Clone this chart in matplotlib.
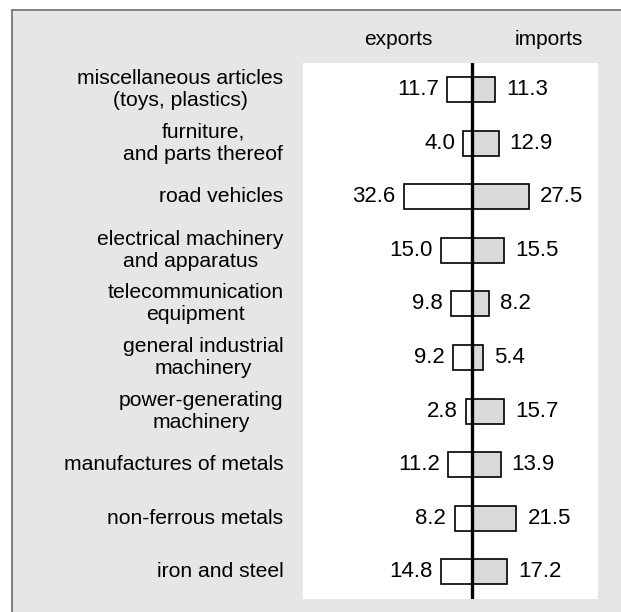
import numpy as np
import matplotlib
matplotlib.use('Agg')
import matplotlib.pyplot as plt
from matplotlib.patches import Rectangle
from matplotlib.lines import Line2D

plt.rcParams['font.family'] = ['Liberation Sans', 'DejaVu Sans']

categories = [
    'miscellaneous articles\n(toys, plastics)',
    'furniture,\nand parts thereof',
    'road vehicles',
    'electrical machinery\nand apparatus',
    'telecommunication\nequipment',
    'general industrial\nmachinery',
    'power-generating\nmachinery',
    'manufactures of metals',
    'non-ferrous metals',
    'iron and steel',
]
exports = [11.7, 4.0, 32.6, 15.0, 9.8, 9.2, 2.8, 11.2, 8.2, 14.8]
imports = [11.3, 12.9, 27.5, 15.5, 8.2, 5.4, 15.7, 13.9, 21.5, 17.2]

W, H = 621, 612
fig = plt.figure(figsize=(W / 100, H / 100), dpi=100)
fig.patch.set_facecolor('white')

# grey panel, cut off at right and bottom, border on left and top only
x0, y0 = 11.5 / W, 1 - 10 / H
fig.patches.append(Rectangle((x0, 0), 1 - x0, y0, transform=fig.transFigure,
                             facecolor='#e6e6e6', edgecolor='none', zorder=-2))
fig.lines.append(Line2D([x0, x0], [0, y0], transform=fig.transFigure,
                        color='#808080', lw=1.4, zorder=-1))
fig.lines.append(Line2D([x0, 1], [y0, y0], transform=fig.transFigure,
                        color='#808080', lw=1.4, zorder=-1))

ax = fig.add_axes([302.7 / W, 1 - 598.7 / H, 295 / W, 536 / H])
ax.set_zorder(2)
ax.set_facecolor('white')
for s in ax.spines.values():
    s.set_visible(False)

n = len(categories)
y = np.arange(n)[::-1]
h = 0.47
ax.barh(y, [-v for v in exports], height=h, color='white', edgecolor='black', lw=1.2, zorder=2)
ax.barh(y, imports, height=h, color='#d9d9d9', edgecolor='black', lw=1.2, zorder=2)
ax.axvline(0, color='black', lw=2.4, zorder=3)

ax.set_xlim(-81.3, 60.6)
ax.set_ylim(-0.5, n - 0.5)
ax.set_xticks([])
ax.set_yticks([])

vfs = 16
for yi, e, im in zip(y, exports, imports):
    ax.annotate(f'{e:.1f}', (-e, yi), xytext=(-6, 0), textcoords='offset points',
                ha='right', va='center', fontsize=vfs)
    ax.annotate(f'{im:.1f}', (im, yi), xytext=(8, 0), textcoords='offset points',
                ha='left', va='center', fontsize=vfs)

lfs = 15.2
for yi, lab in zip(y, categories):
    ax.annotate(lab, (0, yi), xycoords=('axes fraction', 'data'), xytext=(-14, 0),
                textcoords='offset points', ha='right', va='center',
                multialignment='center', fontsize=lfs, linespacing=1.2,
                annotation_clip=False)

ax.annotate('exports', (-35.5, n - 0.5), xytext=(0, 17), textcoords='offset points',
            ha='center', va='center', fontsize=15, annotation_clip=False)
ax.annotate('imports', (37.3, n - 0.5), xytext=(0, 17), textcoords='offset points',
            ha='center', va='center', fontsize=15, annotation_clip=False)

fig.savefig('out.png', dpi=100)
